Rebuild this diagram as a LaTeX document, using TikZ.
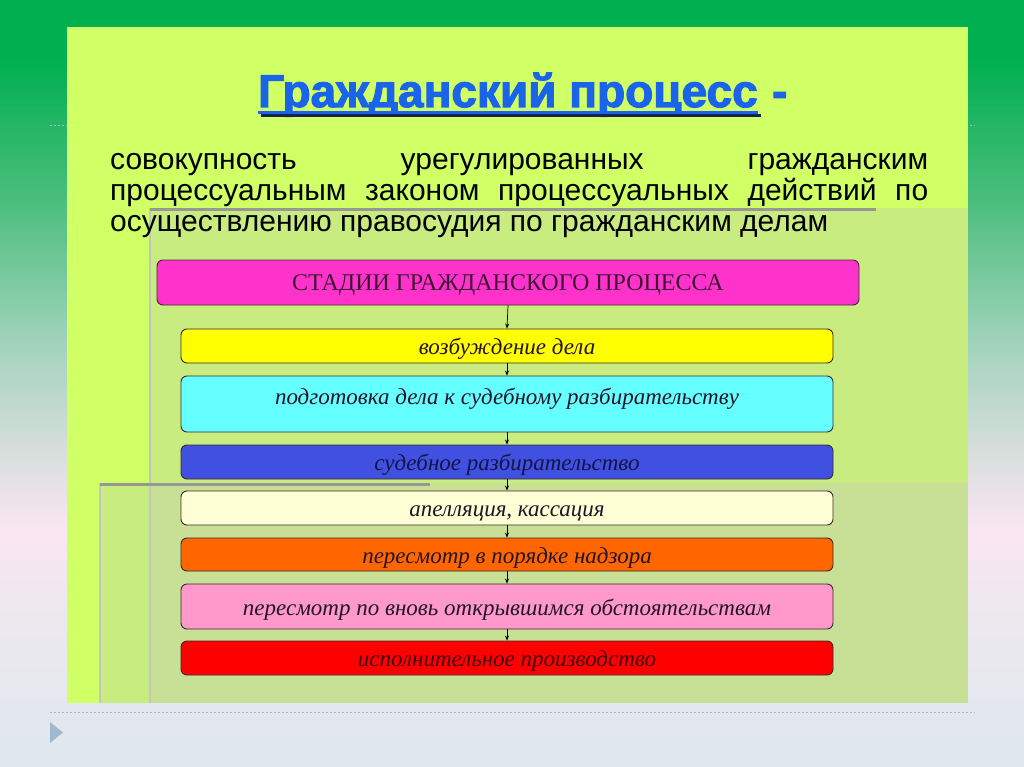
\documentclass[tikz,border=0pt]{standalone}
\usepackage{fontspec}
\setmainfont{Liberation Serif}
\newfontfamily\arialf{Liberation Sans}
\newfontfamily\titlef[BoldFeatures={FakeBold=2.5}]{Liberation Sans}
\usetikzlibrary{arrows.meta}
\definecolor{bgA}{RGB}{0,176,80}
\definecolor{bgB}{RGB}{75,190,125}
\definecolor{bgC}{RGB}{165,212,190}
\definecolor{bgD}{RGB}{215,222,220}
\definecolor{bgE}{RGB}{250,230,242}
\definecolor{bgF}{RGB}{236,232,238}
\definecolor{bgG}{RGB}{222,232,238}
\definecolor{limeA}{RGB}{208,255,102}
\definecolor{greenB}{RGB}{201,236,128}
\definecolor{greenC}{RGB}{200,223,150}
\definecolor{shgray}{RGB}{192,200,192}
\definecolor{shdark}{RGB}{150,152,150}
\definecolor{dotgray}{RGB}{170,182,200}
\definecolor{trigray}{RGB}{160,185,205}
\definecolor{titleblue}{RGB}{25,100,235}
\definecolor{titleshadow}{RGB}{20,35,80}
\definecolor{boxline}{RGB}{60,40,45}
\definecolor{cMag}{RGB}{255,51,204}
\definecolor{cYel}{RGB}{255,255,0}
\definecolor{cCya}{RGB}{102,255,255}
\definecolor{cBlu}{RGB}{64,80,224}
\definecolor{cPal}{RGB}{255,255,214}
\definecolor{cOra}{RGB}{255,102,0}
\definecolor{cPnk}{RGB}{255,153,204}
\definecolor{cRed}{RGB}{255,0,0}
\definecolor{txtdark}{RGB}{35,20,40}
\begin{document}
\begin{tikzpicture}[x=1pt,y=-1pt,
  stage/.style={draw=boxline, line width=0.9pt, rounded corners=6pt,
    minimum width=652pt, inner sep=0pt, text height=18pt, text depth=1pt,
    font=\itshape\fontsize{23}{23}\selectfont, text=txtdark},
  conn/.style={-{Stealth[length=5pt,width=4pt]}, line width=0.7pt, black},
  para/.style={anchor=base west, inner sep=0pt, font=\arialf\fontsize{30}{31}\selectfont, text=black},
  ttl/.style={anchor=base west, inner sep=0pt, font=\titlef\bfseries\fontsize{46}{46}\selectfont, text=titleblue}]
\useasboundingbox (0,0) rectangle (1024,767);
% background gradient
\fill[bgA] (0,0) rectangle (1024,60.5);
\shade[top color=bgA, bottom color=bgB] (0,60) rectangle (1024,200.5);
\shade[top color=bgB, bottom color=bgC] (0,200) rectangle (1024,350.5);
\shade[top color=bgC, bottom color=bgD] (0,350) rectangle (1024,450.5);
\shade[top color=bgD, bottom color=bgE] (0,450) rectangle (1024,530.5);
\shade[top color=bgE, bottom color=bgF] (0,530) rectangle (1024,620.5);
\shade[top color=bgF, bottom color=bgG] (0,620) rectangle (1024,767);
% dotted lines and marker
\draw[dotgray, line width=1pt, dash pattern=on 2pt off 2pt] (50,126) -- (975,126);
\draw[dotgray, line width=1pt, dash pattern=on 2pt off 2pt] (50,712) -- (975,712);
\fill[trigray] (50,722) -- (63,732.5) -- (50,743) -- cycle;
% panels
\fill[limeA] (67,27) rectangle (968,703);
\fill[greenB] (150,208) rectangle (968,703);
\fill[greenB] (100,483) rectangle (150,703);
\fill[greenC] (150,483) rectangle (968,703);
\draw[shgray, line width=2pt] (150,208) -- (150,703);
\draw[shgray, line width=2pt] (100,483) -- (100,703);
\draw[shdark, line width=3pt] (150,209.5) -- (876,209.5);
\draw[shdark, line width=2.5pt] (100,484.5) -- (430,484.5);
% title
\node[ttl] (tmain) at (258,107) {Гражданский процесс};
\fill[titleshadow] ([xshift=3pt,yshift=-7pt]tmain.base west) rectangle ([xshift=3pt,yshift=-10pt]tmain.base east);
\fill[titleblue] ([yshift=-4pt]tmain.base west) rectangle ([yshift=-7pt]tmain.base east);
\node[ttl] (tdash) at ([xshift=14pt]tmain.base east) {-};
% paragraph
\node[para] (p1) at (110,170) {\makebox[818pt][s]{совокупность урегулированных гражданским}};
\node[para] (p2) at (110,201) {\makebox[818pt][s]{процессуальным законом процессуальных действий по}};
\node[para] (p3) at (110,232) {осуществлению правосудия по гражданским делам};
% stages
\node[stage, fill=cMag, minimum width=702pt, minimum height=45pt, text height=16pt, text depth=1pt, font=\fontsize{24}{24}\selectfont, text={rgb,255:red,60;green,20;blue,50}] (b0) at (508,282.5) {СТАДИИ ГРАЖДАНСКОГО ПРОЦЕССА};
\node[stage, fill=cYel, minimum height=34pt] (b1) at (507,346) {возбуждение дела};
\node[stage, fill=cCya, minimum height=56pt] (b2) at (507,404) {\raisebox{8pt}{подготовка дела к судебному разбирательству}};
\node[stage, fill=cBlu, minimum height=34pt, text={rgb,255:red,20;green,20;blue,70}] (b3) at (507,462) {судебное разбирательство};
\node[stage, fill=cPal, minimum height=34pt] (b4) at (507,508) {апелляция, кассация};
\node[stage, fill=cOra, minimum height=33pt] (b5) at (507,554.5) {пересмотр в порядке надзора};
\node[stage, fill=cPnk, minimum height=45pt] (b6) at (507,606.5) {пересмотр по вновь открывшимся обстоятельствам};
\node[stage, fill=cRed, minimum height=34pt, text={rgb,255:red,70;green,0;blue,10}] (b7) at (507,658) {исполнительное производство};
\draw[conn] (b0.south) -- (b1.north);
\draw[conn] (b1.south) -- (b2.north);
\draw[conn] (b2.south) -- (b3.north);
\draw[conn] (b3.south) -- (b4.north);
\draw[conn] (b4.south) -- (b5.north);
\draw[conn] (b5.south) -- (b6.north);
\draw[conn] (b6.south) -- (b7.north);
\end{tikzpicture}
\end{document}
